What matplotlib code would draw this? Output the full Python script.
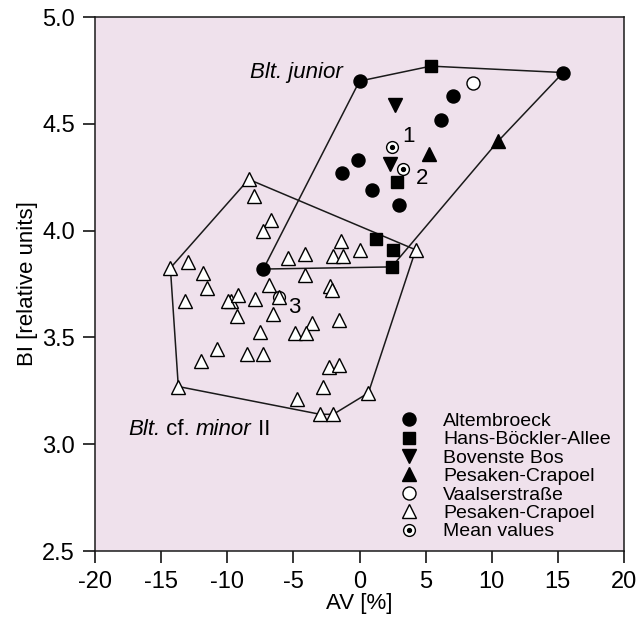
import matplotlib
matplotlib.use("Agg")
import matplotlib.pyplot as plt

plt.rcParams['font.family'] = 'Liberation Sans'
plt.rcParams['axes.unicode_minus'] = False

# Blt. junior groups
alt_x = [0.0, 15.4, 7.1, 6.2, -0.15, -1.3, 0.97, 2.96, -7.27]
alt_y = [4.70, 4.74, 4.63, 4.52, 4.33, 4.27, 4.19, 4.12, 3.82]
hans_x = [5.4, 2.8, 1.25, 2.5, 2.43]
hans_y = [4.77, 4.226, 3.96, 3.91, 3.83]
bov_x = [2.66, 2.3]
bov_y = [4.59, 4.31]
pes_x = [5.25, 10.5]
pes_y = [4.36, 4.42]
vaal_x = [8.55]
vaal_y = [4.69]

# Blt. cf. minor II (Pesaken-Crapoel, open triangles)
minor_x = [-8.38, -7.95, -6.71, -7.27, -1.42, -4.09, -2.03, -1.27, 0.0, -5.4, 4.25,
           -14.3, -12.99, -11.8, -11.55, -13.17, -9.7, -9.95, -9.15, -7.9, -6.86,
           -4.09, -6.1, -9.23, -6.51, -2.23, -2.08, -7.52, -3.6, -4.87, -4.04, -1.57,
           -10.8, -12.0, -8.53, -7.27, -2.28, -1.53, -2.78, -4.75, -13.7, -2.98,
           -1.98, 0.67]
minor_y = [4.24, 4.16, 4.05, 4.00, 3.95, 3.89, 3.88, 3.88, 3.91, 3.87, 3.91,
           3.825, 3.855, 3.80, 3.73, 3.67, 3.67, 3.67, 3.70, 3.68, 3.745,
           3.79, 3.69, 3.60, 3.61, 3.74, 3.72, 3.525, 3.567, 3.52, 3.52, 3.58,
           3.445, 3.39, 3.42, 3.42, 3.36, 3.37, 3.27, 3.21, 3.27, 3.14,
           3.14, 3.24]

# mean values
mean_x = [2.48, 3.3, -6.06]
mean_y = [4.39, 4.29, 3.69]
mean_lab = ['1', '2', '3']

# hull outlines
junior_hull_x = [0.0, 5.4, 15.4, 10.5, 2.43, -7.27, 0.0]
junior_hull_y = [4.70, 4.77, 4.74, 4.42, 3.83, 3.82, 4.70]
minor_hull_x = [-8.38, 4.25, 0.67, -1.98, -2.98, -13.7, -14.3, -8.38]
minor_hull_y = [4.24, 3.91, 3.24, 3.14, 3.14, 3.27, 3.825, 4.24]

xticks = [-20, -15, -10, -5, 0, 5, 10, 15, 20]
yticks = [2.5, 3.0, 3.5, 4.0, 4.5, 5.0]

fig = plt.figure(figsize=(6.39, 6.22), dpi=100)
ax = fig.add_axes([95 / 639, 71 / 622, 529 / 639, 534 / 622])
ax.set_facecolor('#efe1ec')

ax.plot(junior_hull_x, junior_hull_y, color='#1a1a1a', lw=1.1, zorder=1)
ax.plot(minor_hull_x, minor_hull_y, color='#1a1a1a', lw=1.1, zorder=1)

ms = 9.4
ax.plot(alt_x, alt_y, 'o', ms=ms, color='black', label='Altembroeck', zorder=3)
ax.plot(hans_x, hans_y, 's', ms=8.6, color='black', label='Hans-Böckler-Allee', zorder=3)
ax.plot(bov_x, bov_y, 'v', ms=ms, color='black', label='Bovenste Bos', zorder=3)
ax.plot(pes_x, pes_y, '^', ms=ms, color='black', label='Pesaken-Crapoel', zorder=3)
ax.plot(vaal_x, vaal_y, 'o', ms=ms, mfc='white', mec='black', mew=1.0,
        label='Vaalserstraße', zorder=3)

# mean markers: open circle with a dot
ax.plot(mean_x, mean_y, 'o', ms=8.5, mfc='white', mec='black', mew=1.0, zorder=4)
ax.plot(mean_x, mean_y, 'o', ms=2.8, color='black', zorder=4)
for mx, my, lab, dx, dy in zip(mean_x, mean_y, mean_lab, [1.2, 1.45, 1.15], [0.05, -0.045, -0.05]):
    ax.text(mx + dx, my + dy, lab, fontsize=16, ha='center', va='center', zorder=5)

ax.plot(minor_x, minor_y, '^', ms=ms, mfc='white', mec='black', mew=1.0,
        label='Pesaken-Crapoel', zorder=5)

# legend proxy for mean values
mean_handle = ax.plot([], [], 'o', ms=8.5, mfc='white', mec='black', mew=1.0)[0]
dot_handle = ax.plot([], [], 'o', ms=2.8, color='black')[0]
handles, labels = ax.get_legend_handles_labels()
handles.append((mean_handle, dot_handle))
labels.append('Mean values')
ax.legend(handles, labels, loc='lower left', bbox_to_anchor=(0.575, 0.02),
          frameon=False, fontsize=14, handlelength=1.0, handletextpad=1.25,
          labelspacing=0.04, borderpad=0, borderaxespad=0)

ax.text(-8.28, 4.74, 'Blt. junior', fontsize=16, style='italic', ha='left', va='center')

# "Blt. cf. minor II" with mixed italic, pieces chained one after another
parts = [('Blt.', 'italic'), (' cf. ', 'normal'), ('minor', 'italic'), (' II', 'normal')]
prev = ax.text(-17.5, 3.07, parts[0][0], fontsize=16, style=parts[0][1],
               ha='left', va='center')
for txt, st in parts[1:]:
    prev = ax.annotate(txt, xy=(1, 0), xycoords=prev, fontsize=16, style=st,
                       ha='left', va='bottom')

ax.set_xlim(-20, 20)
ax.set_ylim(2.5, 5.0)
ax.set_xticks(xticks)
ax.set_yticks(yticks)
ax.set_yticklabels([f'{v:.1f}' for v in yticks])
ax.tick_params(axis='both', direction='out', length=8.5, width=1.1, labelsize=17, pad=6)
ax.tick_params(top=False, right=False)
for sp in ax.spines.values():
    sp.set_linewidth(1.1)
    sp.set_color('#1a1a1a')

ax.set_xlabel('AV [%]', fontsize=16, labelpad=0)
ax.set_ylabel('BI [relative units]', fontsize=16, labelpad=3)

fig.savefig('out.png', dpi=100)
